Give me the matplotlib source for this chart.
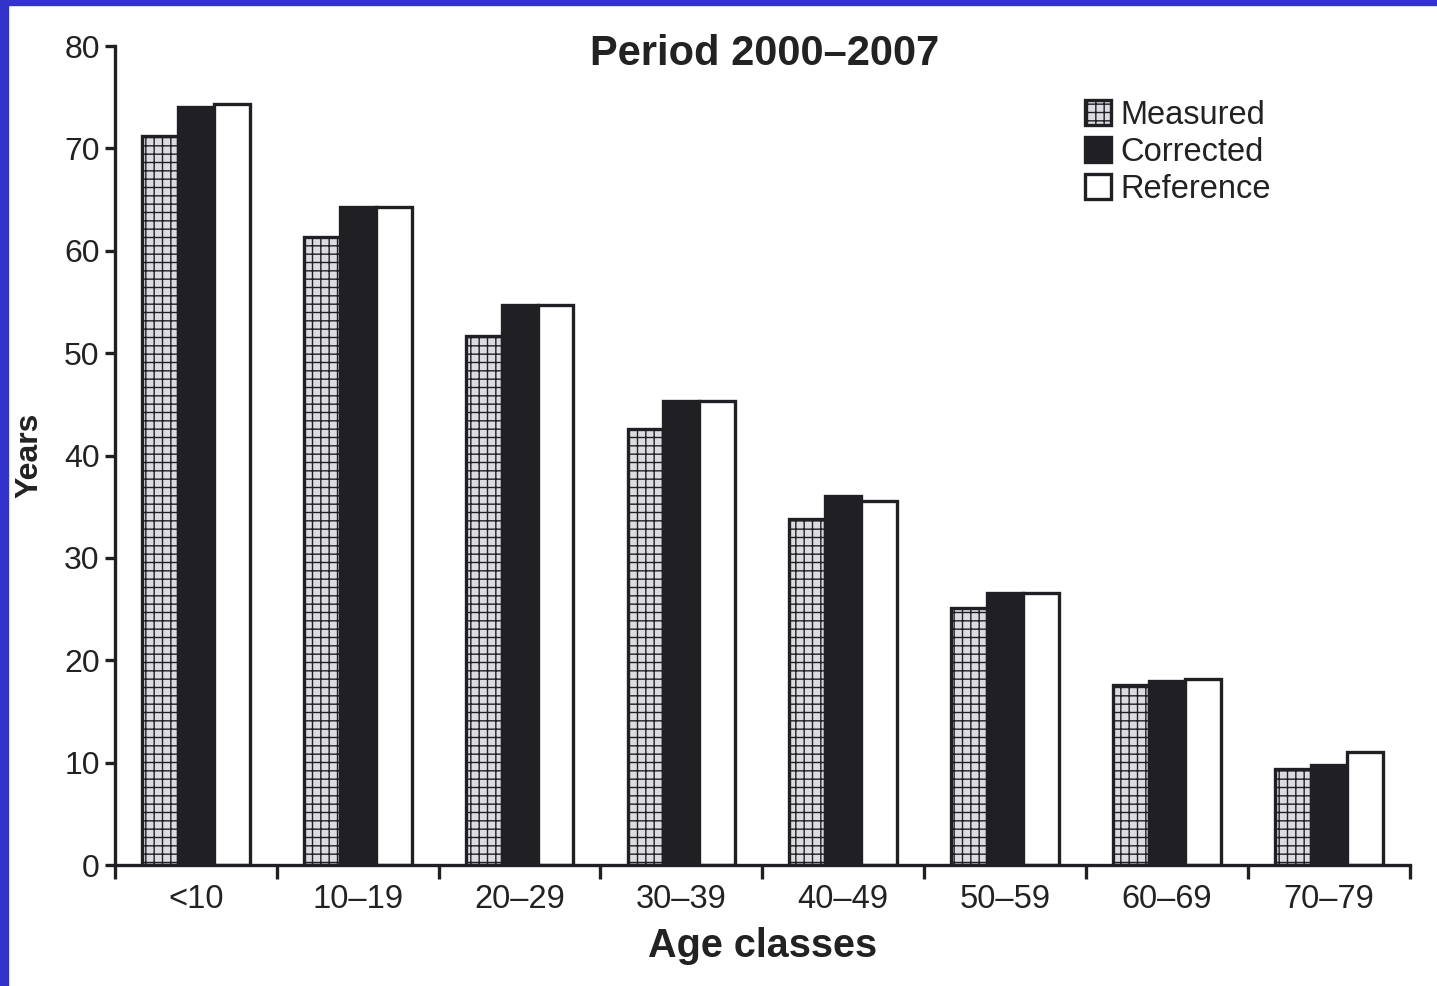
import numpy as np
import matplotlib.pyplot as plt
from matplotlib.patches import Rectangle

plt.rcParams['font.family'] = ['Liberation Sans', 'DejaVu Sans']
plt.rcParams['hatch.color'] = '#a4a4a8'
plt.rcParams['hatch.linewidth'] = 1.0

classes = ['<10', '10\u201319', '20\u201329', '30\u201339', '40\u201349', '50\u201359', '60\u201369', '70\u201379']
measured = [71.2, 61.3, 51.7, 42.6, 33.8, 25.1, 17.6, 9.4]
corrected = [74.0, 64.3, 54.7, 45.3, 36.0, 26.6, 18.0, 9.8]
reference = [74.3, 64.3, 54.7, 45.3, 35.6, 26.6, 18.2, 11.0]

ink = '#202024'

fig = plt.figure(figsize=(14.37, 9.86), dpi=100)
ax = fig.add_axes([0.080, 0.1227, 0.901, 0.8306])

x = np.arange(len(classes))
w = 0.222
lw = 2.4
ax.bar(x - w, measured, w, color='#dcdce0', edgecolor=ink, linewidth=lw,
       hatch='++', label='Measured')
ax.bar(x, corrected, w, color=ink, edgecolor=ink, linewidth=lw, label='Corrected')
ax.bar(x + w, reference, w, color='white', edgecolor=ink, linewidth=lw, label='Reference')

ax.set_xlim(-0.5, len(classes) - 0.5)
ax.set_ylim(0, 80)
ax.set_yticks(range(0, 81, 10))
ax.set_xticks(x)
ax.set_xticklabels(classes)
ax.set_xticks(np.arange(-0.5, len(classes), 1.0), minor=True)
ax.tick_params(axis='x', which='major', length=0, pad=14, labelsize=23.5, labelcolor='#222')
ax.tick_params(axis='x', which='minor', length=10, width=2.4, color=ink)
ax.tick_params(axis='y', length=7, width=2.4, color=ink, labelsize=23, labelcolor='#222', pad=4)

for side in ['top', 'right']:
    ax.spines[side].set_visible(False)
for side in ['left', 'bottom']:
    ax.spines[side].set_linewidth(2.4)
    ax.spines[side].set_color(ink)

ax.set_xlabel('Age classes', fontsize=28.5, fontweight='bold', color='#222', labelpad=8)
ax.set_ylabel('Years', fontsize=23, fontweight='bold', color='#222', labelpad=14)

fig.text(0.532, 0.945, 'Period 2000\u20132007', ha='center', va='center',
         fontsize=30, fontweight='bold', color='#222')

ax.legend(loc='upper left', bbox_to_anchor=(0.739, 0.95), frameon=False,
          fontsize=23.5, handlelength=0.8, handleheight=0.8, handletextpad=0.3,
          labelspacing=0.18, borderaxespad=0, labelcolor='#222')

# blue frame on the left and top edges
fig.patches.append(Rectangle((0, 0), 8 / 1437, 1, transform=fig.transFigure,
                             color='#3333cc', zorder=10))
fig.patches.append(Rectangle((0, 1 - 5 / 986), 1, 5 / 986, transform=fig.transFigure,
                             color='#3333cc', zorder=10))

fig.savefig('out.png', dpi=100)
